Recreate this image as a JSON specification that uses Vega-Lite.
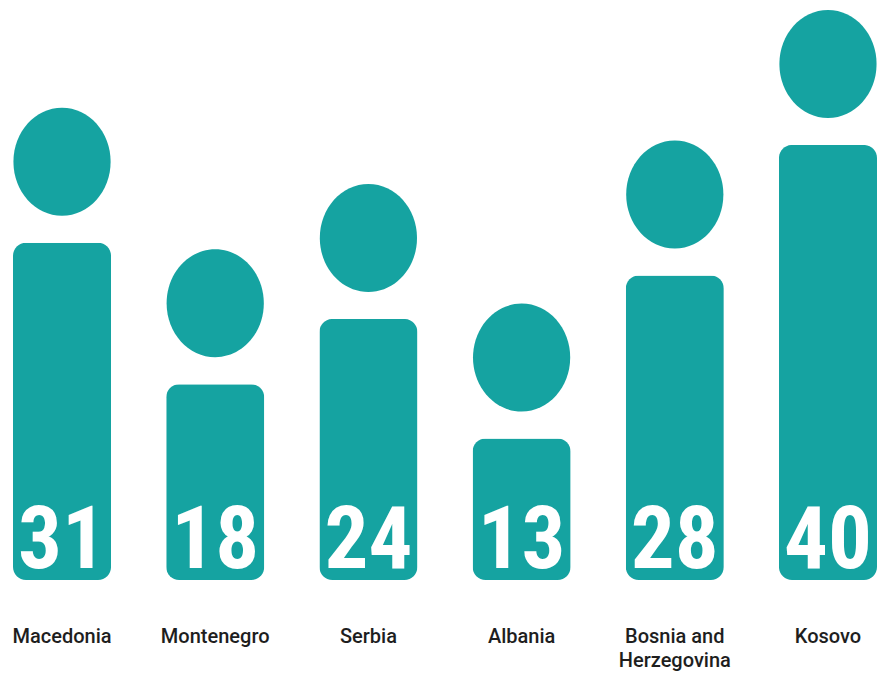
{
  "$schema": "https://vega.github.io/schema/vega-lite/v6.json",
  "width": 878,
  "height": 580,
  "autosize": {"type": "none"},
  "padding": {"left": 0, "top": 0, "right": 0, "bottom": 106},
  "background": "white",
  "config": {"view": {"stroke": null}},
  "data": {
    "values": [
      {"country": "Macedonia", "value": 31},
      {"country": "Montenegro", "value": 18},
      {"country": "Serbia", "value": 24},
      {"country": "Albania", "value": 13},
      {"country": "Bosnia and Herzegovina", "value": 28},
      {"country": "Kosovo", "value": 40}
    ]
  },
  "encoding": {
    "x": {
      "field": "country",
      "type": "nominal",
      "sort": null,
      "title": null,
      "scale": {"range": [13, 877], "paddingInner": 0.36, "paddingOuter": 0},
      "axis": {
        "domain": false,
        "ticks": false,
        "grid": false,
        "labelAngle": 0,
        "labelFont": "Roboto",
        "labelFontWeight": 500,
        "labelFontSize": 20,
        "labelColor": "#1e1e1e",
        "labelPadding": 46,
        "labelBaseline": "top",
        "labelLineHeight": 24,
        "labelLimit": 200,
        "labelExpr": "datum.value == 'Bosnia and Herzegovina' ? ['Bosnia and', 'Herzegovina'] : datum.value"
      }
    }
  },
  "layer": [
    {
      "mark": {"type": "bar", "cornerRadius": 13, "color": "#15a3a1"},
      "encoding": {
        "y": {
          "field": "value",
          "type": "quantitative",
          "scale": {"domain": [0, 53.33], "nice": false, "zero": true},
          "axis": null
        }
      }
    },
    {
      "mark": {
        "type": "point",
        "shape": "M0,-1 A0.9,1 0 1,1 0,1 A0.9,1 0 1,1 0,-1 Z",
        "size": 11664,
        "filled": true,
        "opacity": 1,
        "strokeWidth": 0,
        "color": "#15a3a1",
        "yOffset": -81
      },
      "encoding": {
        "y": {"field": "value", "type": "quantitative"}
      }
    },
    {
      "mark": {
        "type": "text",
        "color": "white",
        "font": "Roboto Condensed",
        "fontWeight": "bold",
        "fontSize": 87,
        "baseline": "alphabetic",
        "align": "center",
        "dy": -12
      },
      "encoding": {
        "y": {"datum": 0, "type": "quantitative"},
        "text": {"field": "value", "type": "quantitative"}
      }
    }
  ]
}
